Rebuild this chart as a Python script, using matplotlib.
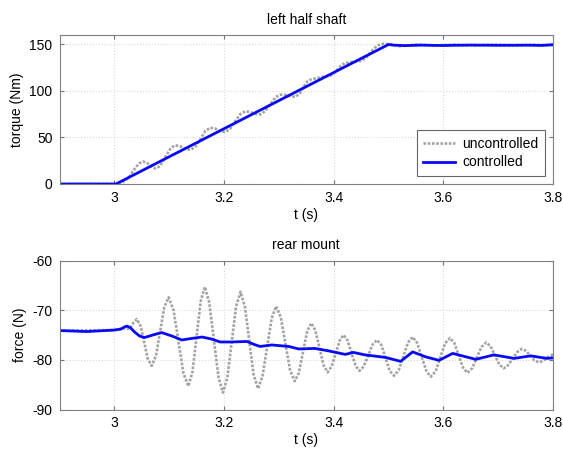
"""Par en el semieje izquierdo y fuerza en el soporte trasero."""

import matplotlib

matplotlib.use("Agg")

import matplotlib.pyplot as plt

# left half shaft: torque (Nm)
shaft_t_uncontrolled = [
    2.9, 3.0, 3.012, 3.025, 3.038, 3.045, 3.052, 3.06, 3.068, 3.075,
    3.083, 3.093, 3.103, 3.111, 3.12, 3.13, 3.139, 3.148, 3.157, 3.166,
    3.175, 3.184, 3.193, 3.202, 3.211, 3.22, 3.23, 3.239, 3.248, 3.257,
    3.266, 3.275, 3.285, 3.294, 3.303, 3.312, 3.321, 3.33, 3.338, 3.345,
    3.352, 3.36, 3.37, 3.382, 3.394, 3.403, 3.412, 3.42, 3.427, 3.435,
    3.443, 3.451, 3.46, 3.47, 3.48, 3.491, 3.5, 3.51, 3.52, 3.535,
    3.55, 3.565, 3.58, 3.6, 3.62, 3.64, 3.66, 3.68, 3.7, 3.72,
    3.74, 3.76, 3.78, 3.8,
]
shaft_torque_uncontrolled = [
    0, 0, 0.5, 6, 17, 22, 24.1, 22.5, 18.5, 16.7,
    19, 29, 38.5, 41.5, 40.5, 37.5, 36.5, 40, 48, 57,
    60.3, 59.5, 56.5, 55.6, 59, 67, 75, 78, 77, 75,
    74.5, 78, 86, 93, 95.7, 95.5, 94, 93.3, 97, 104,
    110, 112.4, 113.5, 115, 116, 120, 126, 129.5, 130.1, 131,
    131.5, 131.9, 136, 143, 148.5, 150.3, 150, 148.5, 147.6, 148.5,
    149.6, 149, 148.2, 149, 149.5, 148.6, 148.3, 149.2, 149.4, 148.6,
    148.5, 149.2, 149.0, 148.8,
]

shaft_t_controlled = [
    2.9, 3.003, 3.5, 3.51, 3.53, 3.56, 3.6, 3.65, 3.7, 3.75, 3.78, 3.8,
]
shaft_torque_controlled = [
    0, 0, 149.5, 148.8, 148.3, 148.8, 148.4, 148.9, 148.6, 148.8, 148.5, 149.3,
]

# rear mount: force (N)
mount_t_uncontrolled = [
    2.9, 3.0, 3.02, 3.028, 3.035,
    3.041, 3.048, 3.0545, 3.061,
    3.068, 3.076, 3.0835, 3.091,
    3.099, 3.108, 3.117, 3.126,
    3.135, 3.1425, 3.15, 3.1575,
    3.165, 3.173, 3.1815, 3.19,
    3.198, 3.206, 3.214, 3.222,
    3.23, 3.238, 3.246, 3.254,
    3.262, 3.27, 3.2785, 3.287,
    3.295, 3.3035, 3.312, 3.3205,
    3.329, 3.3365, 3.344, 3.3515,
    3.359, 3.3665, 3.374, 3.3815,
    3.389, 3.396, 3.4035, 3.411,
    3.418, 3.425, 3.4325, 3.44,
    3.447, 3.455, 3.463, 3.471,
    3.479, 3.487, 3.4945, 3.502,
    3.51, 3.5185, 3.527, 3.5355,
    3.544, 3.552, 3.5605, 3.569,
    3.577, 3.586, 3.5945, 3.603,
    3.612, 3.62, 3.628, 3.636,
    3.644, 3.6525, 3.661, 3.6695,
    3.678, 3.686, 3.694, 3.702,
    3.71, 3.718, 3.7265, 3.735,
    3.743, 3.751, 3.7585, 3.766,
    3.774, 3.782, 3.79, 3.8,
]
mount_force_uncontrolled = [
    -74.1, -74.0, -73.6, -73.8, -72.5,
    -71.8, -73.2, -76.5, -79.8,
    -81.2, -79.2, -74.3, -69.4,
    -67.4, -70.0, -76.35, -82.7,
    -85.3, -82.4, -75.3, -68.2,
    -65.3, -68.4, -75.95, -83.5,
    -86.6, -83.65, -76.45, -69.25,
    -66.3, -69.2, -76.05, -83.0,
    -85.8, -83.4, -77.5, -71.6,
    -69.2, -71.4, -76.75, -82.1,
    -84.3, -82.6, -78.45, -74.3,
    -72.6, -74.05, -77.55, -81.05,
    -82.5, -81.4, -78.75, -76.1,
    -75.0, -76.0, -78.6, -81.2,
    -82.2, -81.3, -79.1, -76.9,
    -76.0, -77.0, -79.6, -82.2,
    -83.2, -82.1, -79.3, -76.5,
    -75.4, -76.55, -79.4, -82.25,
    -83.4, -82.3, -79.5, -76.7,
    -75.6, -76.6, -79.1, -81.6,
    -82.6, -81.7, -79.55, -77.4,
    -76.5, -77.25, -79.1, -80.95,
    -81.7, -81.1, -79.75, -78.4,
    -77.8, -78.2, -79.15, -80.1,
    -80.5, -80.2, -79.5, -78.9,
]

mount_t_controlled = [
    2.9, 2.95, 3.0, 3.012, 3.018, 3.023, 3.029, 3.037, 3.046, 3.055,
    3.07, 3.086, 3.105, 3.123, 3.14, 3.16, 3.177, 3.193, 3.214, 3.242,
    3.255, 3.266, 3.287, 3.318, 3.336, 3.366, 3.391, 3.421, 3.436, 3.457,
    3.494, 3.522, 3.544, 3.568, 3.592, 3.617, 3.659, 3.692, 3.729, 3.759,
    3.789, 3.8,
]
mount_force_controlled = [
    -74.1, -74.3, -74.0, -73.8, -73.4, -73.2, -73.5, -74.4, -75.2, -75.5,
    -75.0, -74.5, -75.2, -76.0, -75.7, -75.4, -75.8, -76.4, -76.4, -76.3,
    -76.9, -77.3, -77.0, -77.3, -77.8, -77.7, -78.2, -78.9, -78.5, -79.0,
    -79.5, -80.3, -78.4, -79.4, -80.1, -78.7, -79.9, -79.0, -79.7, -79.2,
    -79.7, -79.6,
]

time_ticks = [3.0, 3.2, 3.4, 3.6, 3.8]
time_tick_labels = ["3", "3.2", "3.4", "3.6", "3.8"]
torque_ticks = [0, 50, 100, 150]
force_ticks = [-90, -80, -70, -60]

GRAY_STYLE = {
    "color": "0.64",
    "linestyle": (0, (1, 0.6)),
    "linewidth": 1.9,
}
BLUE_STYLE = {
    "color": "#0a0af5",
    "linestyle": "-",
    "linewidth": 2.0,
}


def style_axis(axis, title, ylabel, ylim, yticks):
    """Aplica el aspecto de MATLAB a un eje."""
    axis.set_xlim(2.9, 3.8)
    axis.set_ylim(*ylim)
    axis.set_xticks(time_ticks, labels=time_tick_labels)
    axis.set_yticks(yticks)
    axis.set_title(title, fontsize=10, pad=8)
    axis.set_xlabel("t (s)", fontsize=10, labelpad=2)
    axis.set_ylabel(ylabel, fontsize=10, labelpad=4)
    axis.tick_params(
        direction="in",
        top=True,
        right=True,
        labelsize=10,
        length=3,
        color="0.45",
        pad=5,
    )
    axis.grid(
        True,
        color="0.85",
        linestyle=":",
        linewidth=0.8,
    )
    for spine in axis.spines.values():
        spine.set_color("0.5")
        spine.set_linewidth(0.8)


plt.rcParams["font.family"] = ["Liberation Sans", "DejaVu Sans"]
plt.rcParams["axes.unicode_minus"] = False

figure = plt.figure(figsize=(5.63, 4.57), dpi=100)
top_axis = figure.add_axes([0.1057, 0.5974, 0.8766, 0.3267])
bottom_axis = figure.add_axes([0.1057, 0.1039, 0.8766, 0.326])

top_axis.plot(
    shaft_t_uncontrolled,
    shaft_torque_uncontrolled,
    label="uncontrolled",
    **GRAY_STYLE,
)
top_axis.plot(
    shaft_t_controlled,
    shaft_torque_controlled,
    label="controlled",
    **BLUE_STYLE,
)
style_axis(top_axis, "left half shaft", "torque (Nm)", (0, 160), torque_ticks)

legend = top_axis.legend(
    loc="lower right",
    fontsize=10,
    frameon=True,
    fancybox=False,
    framealpha=1,
    borderaxespad=0.6,
    handlelength=2.3,
    handletextpad=0.5,
    labelspacing=0.35,
    borderpad=0.45,
)
legend.get_frame().set_edgecolor("0.4")
legend.get_frame().set_linewidth(0.8)

bottom_axis.plot(
    mount_t_uncontrolled,
    mount_force_uncontrolled,
    **GRAY_STYLE,
)
bottom_axis.plot(
    mount_t_controlled,
    mount_force_controlled,
    **BLUE_STYLE,
)
style_axis(bottom_axis, "rear mount", "force (N)", (-90, -60), force_ticks)

figure.savefig("out.png", dpi=100)
plt.close(figure)
